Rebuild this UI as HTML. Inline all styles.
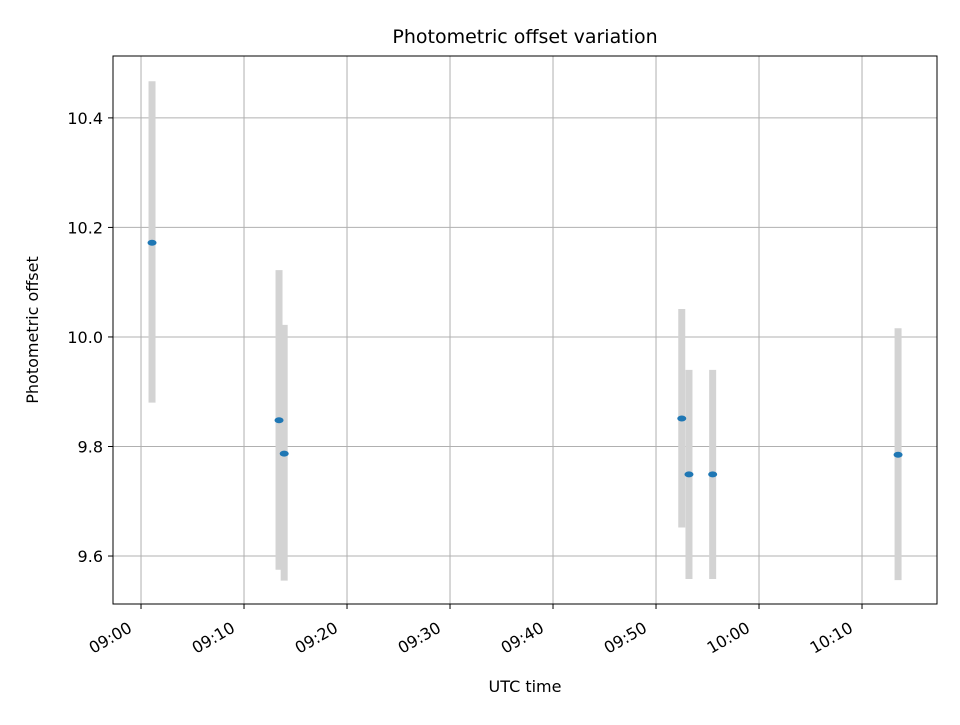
<!DOCTYPE html>
<html><head><meta charset="utf-8"><style>
body{margin:0;background:#fff}
svg text{font-family:"DejaVu Sans","Liberation Sans",sans-serif;fill:#000}
</style></head><body>
<svg id="chart" width="960" height="720" xmlns="http://www.w3.org/2000/svg">
<rect width="960" height="720" fill="#fff"/>
<g id="grid"></g><g id="marks"></g><g id="axes"></g>
<text x="525" y="43" font-size="19" text-anchor="middle">Photometric offset variation</text>
<text x="525" y="692" font-size="16" text-anchor="middle">UTC time</text>
<text transform="translate(38,330) rotate(-90)" font-size="16" text-anchor="middle">Photometric offset</text>
</svg>
<script>
const times=[1.07,13.4,13.9,52.5,53.2,55.5,73.5]; // minutes after 09:00
const offsets=[10.172,9.848,9.787,9.851,9.749,9.749,9.785];
const errLow=[9.880,9.575,9.555,9.652,9.558,9.558,9.556];
const errHigh=[10.467,10.122,10.022,10.051,9.940,9.940,10.016];
const xTicks=[0,10,20,30,40,50,60,70];
const xTickLabels=["09:00","09:10","09:20","09:30","09:40","09:50","10:00","10:10"];
const yTicks=[9.6,9.8,10.0,10.2,10.4];
const yTickLabels=["9.6","9.8","10.0","10.2","10.4"];
const L=113,R=937,T=56,B=604;
const xMin=-2.72,xMax=77.28,yMin=9.5124,yMax=10.513;
const xs=v=>L+(v-xMin)/(xMax-xMin)*(R-L);
const ys=v=>B-(v-yMin)/(yMax-yMin)*(B-T);
const NS="http://www.w3.org/2000/svg";
function mk(p,tag,a){const e=document.createElementNS(NS,tag);for(const k in a)e.setAttribute(k,a[k]);p.appendChild(e);return e;}
const grid=document.getElementById('grid'),marks=document.getElementById('marks'),axes=document.getElementById('axes');
xTicks.forEach((t,i)=>{const x=xs(t);
 const g=mk(grid,'line',{x1:x,x2:x,y1:T,y2:B,stroke:'#b0b0b0','stroke-width':1});
 
 
 const tk=mk(axes,'line',{x1:x,x2:x,y1:B,y2:B+5,stroke:'#000'});
 
 
 const tx=mk(axes,'text',{x:0,y:0,'font-size':16,'text-anchor':'end',transform:`translate(${x-8},${B+27}) rotate(-30)`});
 tx.textContent=xTickLabels[i];
 
 
});
yTicks.forEach((t,i)=>{const y=ys(t);
 const g=mk(grid,'line',{x1:L,x2:R,y1:y,y2:y,stroke:'#b0b0b0','stroke-width':1});
 
 
 const tk=mk(axes,'line',{x1:L-5,x2:L,y1:y,y2:y,stroke:'#000'});
 
 
 const tx=mk(axes,'text',{x:L-10,y:y+6,'font-size':16,'text-anchor':'end'});
 tx.textContent=yTickLabels[i];
 
 
});
times.forEach((t,i)=>{const x=xs(t);
 const e=mk(marks,'line',{x1:x,x2:x,y1:ys(errLow[i]),y2:ys(errHigh[i]),stroke:'#d3d3d3','stroke-width':7});
 
 
});
times.forEach((t,i)=>{
 const p=mk(marks,'ellipse',{cx:xs(t),cy:ys(offsets[i]),rx:4.5,ry:3,fill:'#1f77b4'});
 
 
});
const fr=mk(axes,'rect',{x:L,y:T,width:R-L,height:B-T,fill:'none',stroke:'#000','stroke-width':1});


</script>
</body></html>
